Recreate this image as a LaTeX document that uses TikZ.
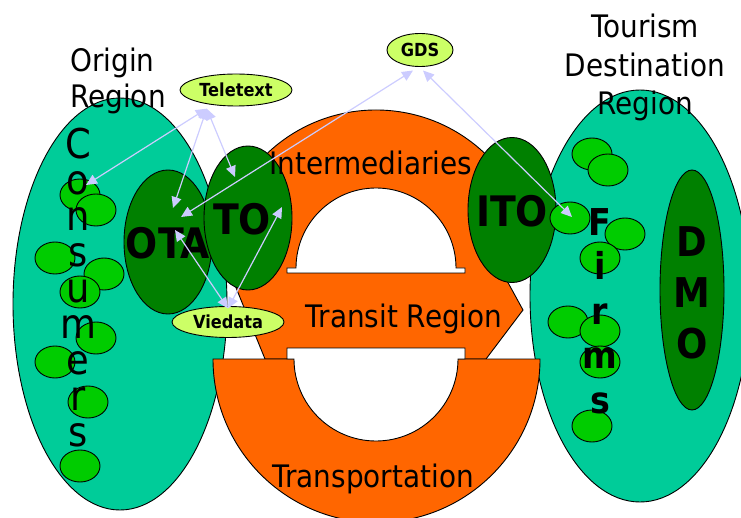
\documentclass[tikz,border=0pt]{standalone}
\usepackage{fontspec}
\setmainfont{DejaVu Sans}[FakeStretch=0.9]
\usetikzlibrary{arrows.meta,shapes.geometric}
\definecolor{tealreg}{RGB}{0,204,153}
\definecolor{dgreen}{RGB}{0,128,0}
\definecolor{lgreen}{RGB}{0,204,0}
\definecolor{orng}{RGB}{255,102,0}
\definecolor{lime}{RGB}{204,255,102}
\definecolor{lav}{RGB}{204,204,255}
\tikzset{
	blob/.style={ellipse,draw,line width=0.9pt,inner sep=0pt,outer sep=0pt},
	region/.style={blob,fill=tealreg,minimum width=214pt,minimum height=412pt},
	agent/.style={blob,fill=dgreen,minimum width=88pt,minimum height=144pt},
	firm/.style={blob,fill=lgreen,minimum width=40pt,minimum height=32pt},
	media/.style={blob,fill=lime,minimum width=112pt,minimum height=32pt,font=\bfseries\fontsize{18}{20}\selectfont},
	big/.style={inner sep=0pt,anchor=base,font=\fontsize{31}{36}\selectfont},
	agentlbl/.style={inner sep=0pt,anchor=base,font=\bfseries\fontsize{42}{44}\selectfont},
	link/.style={draw=lav,line width=1.2pt,{Triangle[length=11pt,width=10pt]}-{Triangle[length=11pt,width=10pt]}},
}
\begin{document}
\begin{tikzpicture}[x=1pt,y=-1pt]
\useasboundingbox (0,0) rectangle (741,518);
\clip (0,0) rectangle (741,518);
% regions
\node[region] (origin) at (120,304) {};
\node[region,minimum width=220pt] (dest) at (640,296) {};
% intermediaries arch and transit arrow
\filldraw[fill=orng,line width=0.9pt] (218,268) arc[start angle=180,end angle=0,radius=158pt]
	-- (500,268) -- (523,310) -- (486,359) -- (265,359) -- (228,268) -- cycle;
% transportation
\filldraw[fill=orng,line width=0.9pt] (213,359) -- (540,359) arc[start angle=0,end angle=-180,radius=163.5pt] -- cycle;
% the holes
\filldraw[fill=white,line width=0.9pt] (287,273) -- (287,268) -- (296,268) arc[start angle=180,end angle=0,radius=80pt]
	-- (465,268) -- (465,273) -- cycle;
\filldraw[fill=white,line width=0.9pt] (287,359) -- (287,348) -- (465,348) -- (465,359) -- (458,359)
	arc[start angle=0,end angle=-180,radius=82pt] -- cycle;
% agents
\node[agent,minimum width=64pt,minimum height=240pt] (dmo) at (692,290) {};
\node[agent] (ota) at (168,242) {};
\node[agent] (to) at (248,218) {};
\node[agent,minimum height=145pt] (ito) at (512,210) {};
% consumers and firms
\foreach \x/\y [count=\i] in {80/195,96/210,55/258,104/274,80/292,96/338,55/362,88/402,80/466}
	\node[firm] (c\i) at (\x,\y) {};
\foreach \x/\y [count=\i] in {592/154,608/170,570/218,625/234,600/258,568/322,600/331,600/362,592/426}
	\node[firm] (f\i) at (\x,\y) {};
% texts (base = last line)
\node[big,anchor=base west,align=left] (origlbl) at (70,108) {Origin\\Region};
\node[big,align=center,font=\fontsize{31}{38.5}\selectfont] (destlbl) at (645,115) {Tourism\\Destination\\Region};
\node[big] (interlbl) at (371,175) {Intermediaries};
\node[big] (translbl) at (404,327) {Transit Region};
\node[big] (portlbl) at (373,487) {Transportation};
\node[big,align=center,font=\fontsize{41}{36}\selectfont] (conslbl) at (78,446) {C\\o\\n\\s\\u\\m\\e\\r\\s};
\node[agentlbl,align=center,font=\bfseries\fontsize{37}{44.5}\selectfont] (firmlbl) at (600,413) {F\\i\\r\\m\\s};
\node[agentlbl,align=center,font=\bfseries\fontsize{41}{50.5}\selectfont] (dmolbl) at (692,358) {D\\M\\O};
\node[agentlbl] (otalbl) at (168,259) {OTA};
\node[agentlbl] (tolbl) at (242,235) {TO};
\node[agentlbl] (itolbl) at (512,227) {ITO};
% media
\node[media] (teletext) at (236,90) {Teletext};
\node[media,minimum width=66pt,minimum height=33pt] (gds) at (420,50) {GDS};
\node[media,minimum height=31pt] (viedata) at (228,322) {Viedata};
% links
\draw[link] ([shift={(0,5)}]teletext.205) -- ([shift={(6,-10)}]c1.center);
\draw[link] ([shift={(0,5)}]teletext.205) -- ([shift={(5,-34)}]ota.center);
\draw[link] ([shift={(0,5)}]teletext.205) -- ([shift={(-13,-41)}]to.center);
\draw[link] ([shift={(-7,4)}]gds.south) -- ([shift={(13,-25)}]ota.center);
\draw[link] ([shift={(3,4)}]gds.south) -- ([shift={(2,-1)}]f3.center);
\draw[link] ([shift={(0,2)}]viedata.north) -- ([shift={(7,-12)}]ota.center);
\draw[link] ([shift={(0,2)}]viedata.north) -- ([shift={(34,-11)}]to.center);
\end{tikzpicture}
\end{document}
